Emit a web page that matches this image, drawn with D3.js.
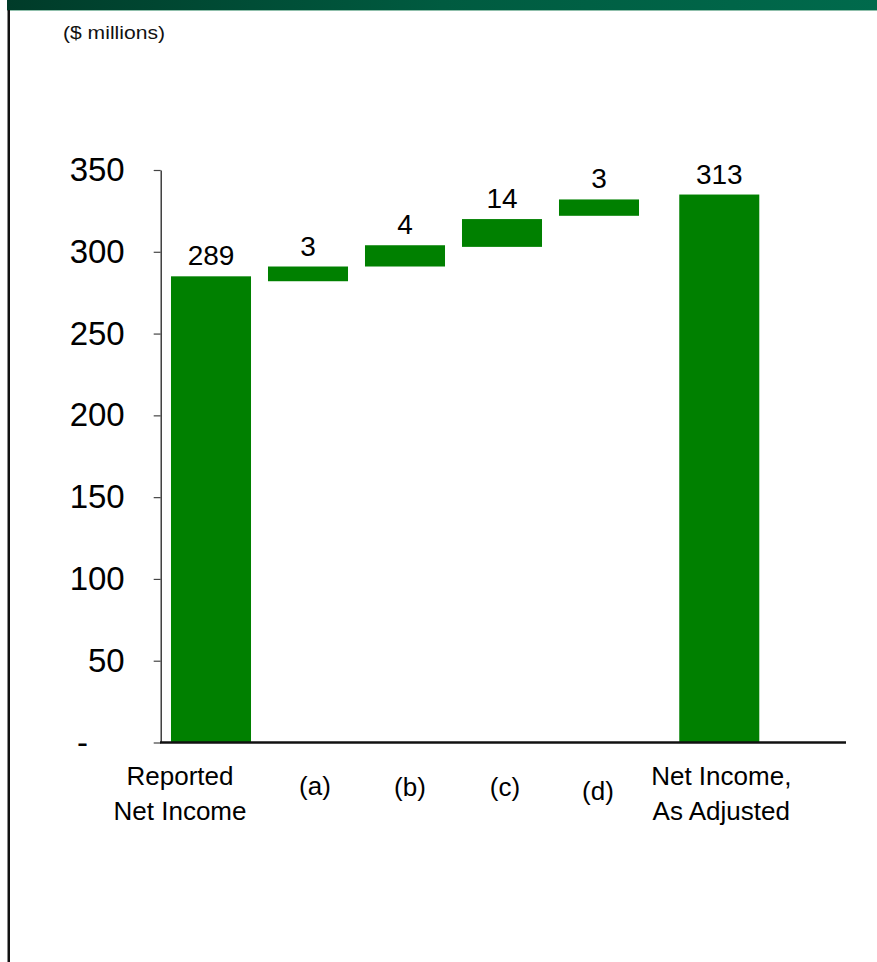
<!DOCTYPE html>
<html>
<head>
<meta charset="utf-8">
<script src="https://cdn.jsdelivr.net/npm/d3@7"></script>
<style>
  html, body { margin: 0; padding: 0; background: #fff; }
  svg { display: block; font-family: "Liberation Sans", Arial, sans-serif; }
</style>
</head>
<body>
<script>
// ---- Data ----
const categories = ["Reported Net Income", "(a)", "(b)", "(c)", "(d)", "Net Income, As Adjusted"];
const categoryLines = [["Reported", "Net Income"], ["(a)"], ["(b)"], ["(c)"], ["(d)"], ["Net Income,", "As Adjusted"]];
// bar extents as drawn against the value axis
const barStart = [0, 282, 291, 303, 322, 0];
const barEnd = [285, 291, 304, 320, 332, 335];
// printed value labels
const valueLabels = ["289", "3", "4", "14", "3", "313"];
const yTickValues = [0, 50, 100, 150, 200, 250, 300, 350];
const unitLabel = "($ millions)";

// ---- Layout ----
const W = 877, H = 962;
const svg = d3.select("body").append("svg").attr("width", W).attr("height", H);

const defs = svg.append("defs");
const grad = defs.append("linearGradient").attr("id", "banner").attr("x1", "0").attr("x2", "1");
grad.append("stop").attr("offset", "0").attr("stop-color", "#003b29");
grad.append("stop").attr("offset", "0.5").attr("stop-color", "#005b40");
grad.append("stop").attr("offset", "1").attr("stop-color", "#006a4c");

svg.append("rect").attr("x", 7).attr("y", 0).attr("width", W - 7).attr("height", 10).attr("fill", "url(#banner)");
svg.append("rect").attr("x", 7).attr("y", 10).attr("width", W - 7).attr("height", 1).attr("fill", "#8fbfab");
svg.append("rect").attr("x", 7.5).attr("y", 10).attr("width", 2.5).attr("height", H - 10).attr("fill", "#111");

svg.append("text").attr("x", 63).attr("y", 39)
  .attr("font-size", 17.5).attr("fill", "#111")
  .attr("textLength", 102).attr("lengthAdjust", "spacingAndGlyphs")
  .text(unitLabel);

const y = d3.scaleLinear().domain([0, 350]).range([742.5, 170]);
const x = d3.scaleBand().domain(categories).range([162.5, 744.5])
  .paddingInner(0.175).paddingOuter(0.0875);
const totalShift = 0.24 * x.step();
const xLeft = (c, i) => x(c) + (i === categories.length - 1 ? totalShift : 0);

// y axis
const yAxis = d3.axisLeft(y).tickValues(yTickValues).tickSize(7).tickSizeOuter(0).tickPadding(29)
  .tickFormat(d => d === 0 ? "-\u00a0\u00a0\u00a0\u00a0" : d3.format("d")(d));
const gy = svg.append("g").attr("transform", "translate(160.7,0)").call(yAxis);
gy.select(".domain").attr("stroke", "#222").attr("stroke-width", 1.3);
gy.selectAll(".tick line").attr("stroke", "#444").attr("stroke-width", 1.2);
gy.selectAll(".tick text").attr("font-size", 33).attr("fill", "#000")
  .attr("font-family", "\"Liberation Sans\", Arial, sans-serif");

// bars
svg.append("g").selectAll("rect").data(categories).join("rect")
  .attr("x", (c, i) => xLeft(c, i))
  .attr("width", x.bandwidth())
  .attr("y", (c, i) => y(barEnd[i]))
  .attr("height", (c, i) => y(barStart[i]) - y(barEnd[i]))
  .attr("fill", "#008000");

// x axis baseline
svg.append("line").attr("x1", 160).attr("x2", 846).attr("y1", y(0)).attr("y2", y(0))
  .attr("stroke", "#111").attr("stroke-width", 2.5);

// value labels
svg.append("g").selectAll("text").data(categories).join("text")
  .attr("x", (c, i) => xLeft(c, i) + x.bandwidth() / 2)
  .attr("y", (c, i) => y(barEnd[i]) - 11)
  .attr("text-anchor", "middle").attr("font-size", 28).attr("fill", "#000")
  .text((c, i) => valueLabels[i]);

// category labels
const labelDx = [-31, 7, 5, 3, -1, 2];
const labelDy = [0, -1, 0, 0, 4, 0];
const catG = svg.append("g");
categories.forEach((c, i) => {
  const cx = xLeft(c, i) + x.bandwidth() / 2 + labelDx[i];
  const lines = categoryLines[i];
  const t = catG.append("text").attr("text-anchor", "middle").attr("font-size", 26).attr("fill", "#000");
  if (lines.length === 1) {
    t.append("tspan").attr("x", cx).attr("y", 796 + labelDy[i]).text(lines[0]);
  } else {
    lines.forEach((l, k) => t.append("tspan").attr("x", cx).attr("y", 784.5 + k * 35.5 + labelDy[i]).text(l));
  }
});
</script>
</body>
</html>
